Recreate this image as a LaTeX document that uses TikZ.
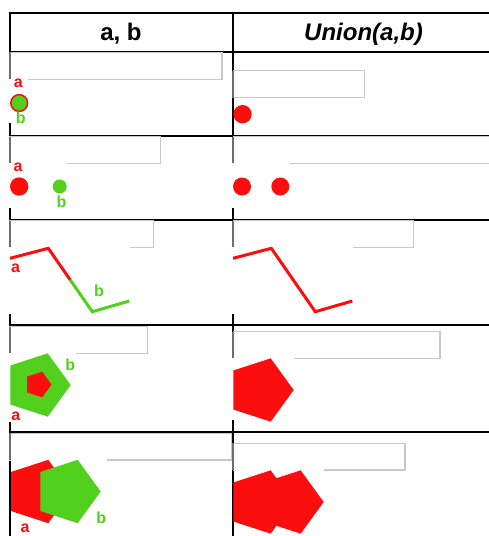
\documentclass[tikz,border=0pt]{standalone}
\usepackage{fontspec}
\setmainfont{Liberation Sans}
\definecolor{gred}{RGB}{252,14,14}
\definecolor{ggreen}{RGB}{82,208,30}
\definecolor{boxgray}{RGB}{200,200,200}
\definecolor{edgegray}{RGB}{110,110,110}
\newcommand\pent[4]{\fill[#4] (#1,#2) +(0:#3) -- +(72:#3) -- +(144:#3) -- +(216:#3) -- +(288:#3) -- cycle;}
\begin{document}
\begin{tikzpicture}[x=1pt,y=-1pt,
  grid/.style={line width=2pt,black},
  frame/.style={draw=boxgray,line width=1.3pt},
  frameedge/.style={draw=edgegray,line width=2pt},
  blank/.style={fill=white},
  hdr/.style={font=\fontsize{24}{28}\selectfont\bfseries,inner sep=0pt,anchor=base},
  lbl/.style={font=\fontsize{16}{18}\selectfont\bfseries,inner sep=0pt,anchor=base},
  geomline/.style={line width=3pt}]
\useasboundingbox (0,0) rectangle (488,536);
% table grid
\foreach \yy in {12.5,51.7,135.7,219.5,325.3,432.3}{\draw[grid] (8.5,\yy) -- (492,\yy);}
\draw[grid] (9.5,11.5) -- (9.5,540);
\draw[grid] (232.5,11.5) -- (232.5,540);
% header
\node[hdr] (h1) at (121,40) {a, b};
\node[hdr] (h2) at (363.5,40) {\itshape Union(a,b)};
% frames and blank images
\draw[frame] (10,52.3) rectangle (222,79.3);   \draw[frameedge] (9.5,52.3) -- (9.5,79.3);
\fill[blank] (8,78.5) rectangle (28,123.3);
\draw[frame] (233.3,70.7) rectangle (364.3,97.7); \draw[frameedge] (232.5,70.7) -- (232.5,97.7);
\draw[frame] (10,136.7) rectangle (160.7,163.3); \draw[frameedge] (9.5,136.7) -- (9.5,163.3);
\fill[blank] (8,162.5) rectangle (66.7,208.3);
\draw[frame] (233.3,136.7) rectangle (495,163.3); \draw[frameedge] (232.5,136.7) -- (232.5,163.3);
\fill[blank] (231,162.5) rectangle (290,208.3);
\draw[frame] (10,220.7) rectangle (153.3,247.3); \draw[frameedge] (9.5,220.7) -- (9.5,247.3);
\fill[blank] (8,246.5) rectangle (130,314.3);
\draw[frame] (233.3,220.7) rectangle (413.3,247.3); \draw[frameedge] (232.5,220.7) -- (232.5,247.3);
\fill[blank] (231,246.5) rectangle (353.3,314.3);
\draw[frame] (10,326.7) rectangle (147.7,353.3); \draw[frameedge] (9.5,326.7) -- (9.5,353.3);
\fill[blank] (8,352.5) rectangle (76,421.7);
\draw[frame] (233.3,331.7) rectangle (440,358.3); \draw[frameedge] (232.5,331.7) -- (232.5,358.3);
\fill[blank] (231,357.5) rectangle (294,420);
\draw[frame] (10,433.3) rectangle (231.7,460); \draw[frameedge] (9.5,433.3) -- (9.5,460);
\fill[blank] (11,459.2) rectangle (106.7,540);
\draw[frame] (233.3,443.3) rectangle (405,470); \draw[frameedge] (232.5,443.3) -- (232.5,470);
\fill[blank] (234,469.2) rectangle (324.3,540);
% row 1
\filldraw[fill=ggreen,draw=gred,line width=1.5pt] (19.2,103) circle (8.4pt);
\node[lbl,text=gred] (a1) at (18.3,87.3) {a};
\node[lbl,text=ggreen] (b1) at (20.7,123.3) {b};
\fill[gred] (242.5,114.2) circle (9.2pt);
% row 2
\fill[gred] (19.2,186.5) circle (9.2pt);
\fill[ggreen] (59.7,186.5) circle (7pt);
\node[lbl,text=gred] (a2) at (18,171.7) {a};
\node[lbl,text=ggreen] (b2) at (61.5,207.7) {b};
\fill[gred] (242,186.5) circle (9pt);
\fill[gred] (280.3,186.5) circle (9pt);
% row 3
\draw[gred,geomline] (10,258.3) -- (48.3,248.3) -- (70.3,280);
\draw[ggreen,geomline] (70.3,280) -- (92.3,311.7) -- (129.3,301);
\node[lbl,text=gred] (a3) at (15.5,272) {a};
\node[lbl,text=ggreen] (b3) at (99,296.7) {b};
\draw[gred,geomline] (233,258.3) -- (271.3,248.3) -- (315.3,311.7) -- (352.3,301);
% row 4
\pent{37.4}{385}{33.3}{ggreen}
\pent{38}{384.5}{13.5}{gred}
\node[lbl,text=ggreen] (b4) at (70.3,370.7) {b};
\node[lbl,text=gred] (a4) at (15.8,420) {a};
\pent{260.4}{390}{33.3}{gred}
% row 5
\pent{38}{491.5}{33.3}{gred}
\pent{67.4}{491.5}{33.3}{ggreen}
\node[lbl,text=gred] (a5) at (25,532.3) {a};
\node[lbl,text=ggreen] (b5) at (101.3,523.3) {b};
\pent{260.4}{502}{33.3}{gred}
\pent{290.4}{502}{33.3}{gred}
\end{tikzpicture}
\end{document}
